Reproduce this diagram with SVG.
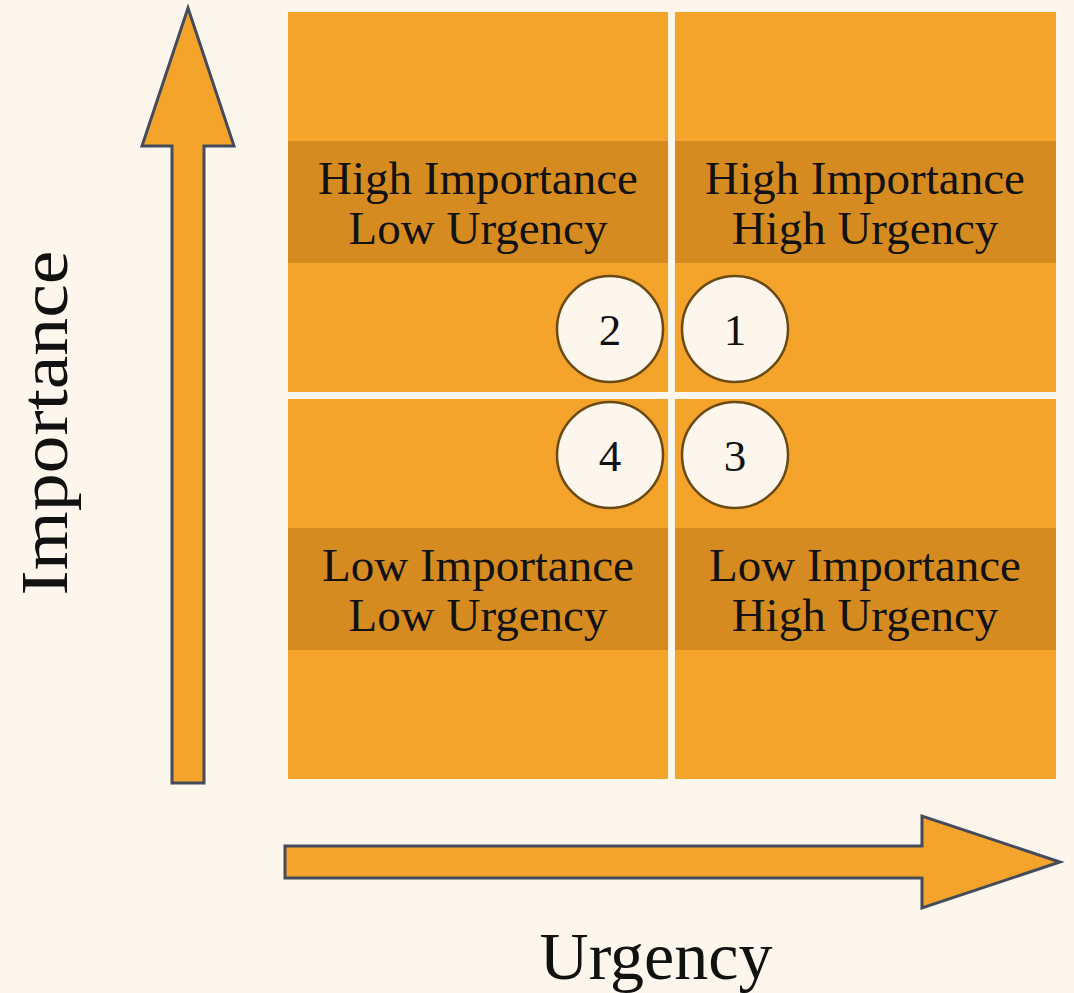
<svg xmlns="http://www.w3.org/2000/svg" width="1074" height="993" viewBox="0 0 1074 993">
  <defs>
    <style>
      .quad { fill: #F5A42B; }
      .band { fill: #D58B20; }
      .axis { fill: #F5A42B; stroke: #444B5A; stroke-width: 3; stroke-linejoin: miter; }
      .badge { fill: #FDF6EC; stroke: #6B4A12; stroke-width: 2.5; }
      .label { font-family: "Liberation Serif", "DejaVu Serif", serif; font-size: 47px; fill: #111; text-anchor: middle; }
      .num { font-family: "Liberation Serif", "DejaVu Serif", serif; font-size: 45px; fill: #111; text-anchor: middle; }
      .axis-title { font-family: "Liberation Serif", "DejaVu Serif", serif; font-size: 68px; fill: #111; text-anchor: middle; }
    </style>
  </defs>

  <!-- page background -->
  <rect width="1074" height="993" fill="#FDF6EC"/>

  <!-- axes -->
  <g id="connectors">
    <polygon id="axis-importance" class="axis" points="172,783 204,783 204,146 234,146 188,8 142,146 172,146"/>
    <polygon id="axis-urgency" class="axis" points="285,846 922,846 922,816 1060,862 922,908 922,878 285,878"/>
  </g>

  <!-- quadrant: high importance / low urgency -->
  <g id="q2">
    <rect class="quad" x="288" y="12" width="380" height="380"/>
    <rect class="band" x="288" y="141" width="380" height="122"/>
    <text class="label" x="478" y="194">High Importance</text>
    <text class="label" x="478" y="244">Low Urgency</text>
  </g>

  <!-- quadrant: high importance / high urgency -->
  <g id="q1">
    <rect class="quad" x="675" y="12" width="381" height="380"/>
    <rect class="band" x="675" y="141" width="381" height="122"/>
    <text class="label" x="865" y="194">High Importance</text>
    <text class="label" x="865" y="244">High Urgency</text>
  </g>

  <!-- quadrant: low importance / low urgency -->
  <g id="q4">
    <rect class="quad" x="288" y="399" width="380" height="380"/>
    <rect class="band" x="288" y="528" width="380" height="122"/>
    <text class="label" x="478" y="581">Low Importance</text>
    <text class="label" x="478" y="631">Low Urgency</text>
  </g>

  <!-- quadrant: low importance / high urgency -->
  <g id="q3">
    <rect class="quad" x="675" y="399" width="381" height="380"/>
    <rect class="band" x="675" y="528" width="381" height="122"/>
    <text class="label" x="865" y="581">Low Importance</text>
    <text class="label" x="865" y="631">High Urgency</text>
  </g>

  <!-- numbered badges -->
  <g id="badge-2">
    <circle class="badge" cx="610" cy="329" r="53"/>
    <text class="num" x="610" y="345">2</text>
  </g>
  <g id="badge-1">
    <circle class="badge" cx="735" cy="329" r="53"/>
    <text class="num" x="735" y="345">1</text>
  </g>
  <g id="badge-4">
    <circle class="badge" cx="610" cy="455" r="53"/>
    <text class="num" x="610" y="471">4</text>
  </g>
  <g id="badge-3">
    <circle class="badge" cx="735" cy="455" r="53"/>
    <text class="num" x="735" y="471">3</text>
  </g>

  <!-- axis titles -->
  <g id="title-importance">
    <text class="axis-title" transform="translate(67,423) rotate(-90)" x="0" y="0" textLength="345" lengthAdjust="spacingAndGlyphs">Importance</text>
  </g>
  <g id="title-urgency">
    <text class="axis-title" x="656" y="979">Urgency</text>
  </g>
</svg>
